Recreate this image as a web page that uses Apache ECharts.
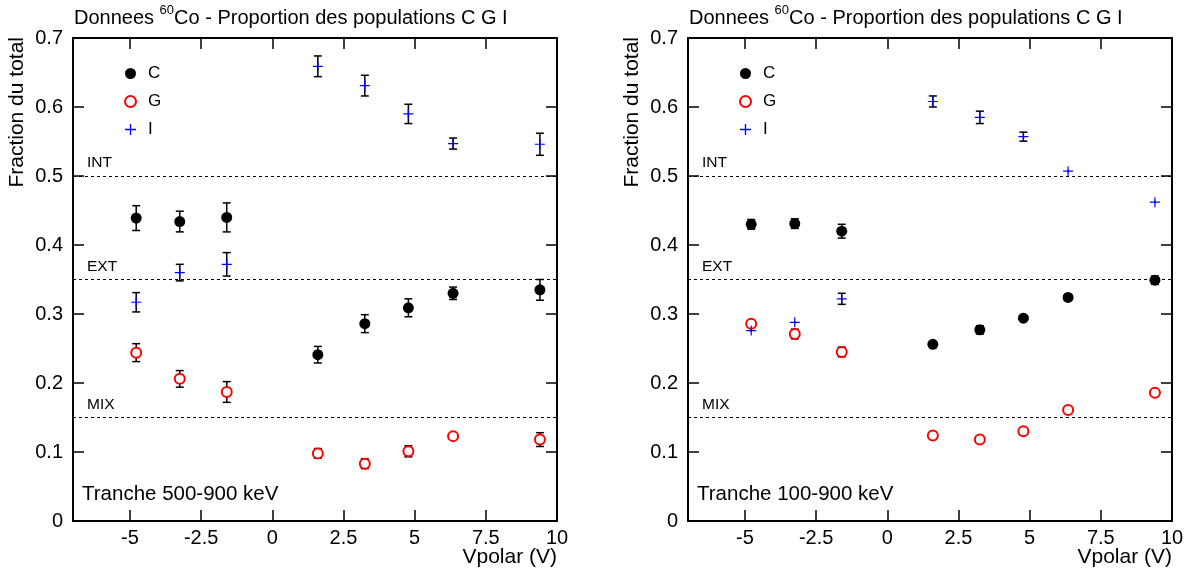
<!DOCTYPE html>
<html>
<head>
<meta charset="utf-8">
<script src="https://cdn.jsdelivr.net/npm/echarts@6/dist/echarts.min.js"></script>
<style>
html,body{margin:0;padding:0;background:#fff;}
#chart{width:1198px;height:577px;}
</style>
</head>
<body>
<div id="chart"></div>
<script>
// ---- data ----
const vpolar = [-4.78, -3.25, -1.6, 1.6, 3.25, 4.78, 6.35, 9.4];
const xTicks = [-5, -2.5, 0, 2.5, 5, 7.5, 10];
const refLevels = [0.5, 0.35, 0.15];
const refNames = ['INT', 'EXT', 'MIX'];
const populations = ['C', 'G', 'I'];

// Tranche 500-900 keV
const C500 = [0.439, 0.434, 0.440, 0.241, 0.286, 0.309, 0.330, 0.335];
const C500err = [0.018, 0.015, 0.021, 0.012, 0.013, 0.013, 0.009, 0.015];
const G500 = [0.244, 0.206, 0.187, 0.098, 0.083, 0.101, 0.123, 0.118];
const G500err = [0.013, 0.012, 0.015, 0.007, 0.007, 0.008, 0.004, 0.010];
const I500 = [0.317, 0.360, 0.372, 0.659, 0.631, 0.590, 0.547, 0.546];
const I500err = [0.014, 0.012, 0.017, 0.015, 0.015, 0.014, 0.008, 0.016];

// Tranche 100-900 keV
const C100 = [0.430, 0.431, 0.420, 0.256, 0.277, 0.294, 0.324, 0.349];
const C100err = [0.007, 0.007, 0.010, 0.003, 0.006, 0.003, 0.003, 0.006];
const G100 = [0.286, 0.271, 0.245, 0.124, 0.118, 0.130, 0.161, 0.186];
const G100err = [0.003, 0.007, 0.007, 0.003, 0.003, 0.003, 0.003, 0.003];
const I100 = [0.276, 0.288, 0.322, 0.608, 0.585, 0.557, 0.507, 0.462];
const I100err = [0.002, 0.002, 0.008, 0.008, 0.009, 0.0065, 0.002, 0.002];

const panelTitles = ['Tranche 500-900 keV', 'Tranche 100-900 keV'];

// ---- chart ----
const FONT = 'Liberation Sans, Arial, Helvetica, sans-serif';
const chart = echarts.init(document.getElementById('chart'), null, {renderer: 'canvas'});

const grids = [
  {left: 73, top: 38, width: 484, height: 483},
  {left: 688, top: 38, width: 484, height: 483}
];

const PLUS = 'path://M0,4.4L10,4.4L10,5.6L0,5.6Z M4.4,0L5.6,0L5.6,10L4.4,10Z';
const styles = {
  C: {symbol: 'circle', symbolSize: 11, itemStyle: {color: '#000', opacity: 1}, gap: 0},
  G: {symbol: 'emptyCircle', symbolSize: 10, itemStyle: {color: '#ff0000', borderColor: '#ff0000', borderWidth: 1.2, opacity: 1}, gap: 5},
  I: {symbol: PLUS, symbolSize: 10, itemStyle: {color: '#0000ff', opacity: 1}, gap: 0}
};

function fmtX(v) { return String(v); }
function fmtY(v) { return v === 0 ? '0' : v.toFixed(1); }

const xAxes = [], yAxes = [];
grids.forEach((g, gi) => {
  xAxes.push({
    gridIndex: gi, type: 'value', min: -7, max: 10, position: 'bottom',
    axisLine: {show: true, onZero: false, lineStyle: {color: '#000', width: 2}},
    axisTick: {show: true, inside: true, length: 11, lineStyle: {color: '#000', width: 1.5}, customValues: xTicks},
    axisLabel: {show: true, margin: 7, color: '#000', fontSize: 20, fontFamily: FONT, customValues: xTicks, formatter: fmtX},
    splitLine: {show: false}
  });
  xAxes.push({
    gridIndex: gi, type: 'value', min: -7, max: 10, position: 'top',
    axisLine: {show: true, onZero: false, lineStyle: {color: '#000', width: 2}},
    axisTick: {show: true, inside: true, length: 11, lineStyle: {color: '#000', width: 1.5}, customValues: xTicks},
    axisLabel: {show: false, customValues: xTicks},
    splitLine: {show: false}
  });
  yAxes.push({
    gridIndex: gi, type: 'value', min: 0, max: 0.7, interval: 0.1, position: 'left',
    axisLine: {show: true, onZero: false, lineStyle: {color: '#000', width: 2}},
    axisTick: {show: true, inside: true, length: 11, lineStyle: {color: '#000', width: 1.5}},
    axisLabel: {show: true, margin: 10, color: '#000', fontSize: 20, fontFamily: FONT, formatter: fmtY},
    splitLine: {show: false}
  });
  yAxes.push({
    gridIndex: gi, type: 'value', min: 0, max: 0.7, interval: 0.1, position: 'right',
    axisLine: {show: true, onZero: false, lineStyle: {color: '#000', width: 2}},
    axisTick: {show: true, inside: true, length: 11, lineStyle: {color: '#000', width: 1.5}},
    axisLabel: {show: false},
    splitLine: {show: false}
  });
});

function errRender(gap) {
  return function (params, api) {
    const x = api.value(0), y = api.value(1), e = api.value(2);
    const c = api.coord([x, y]);
    const t = api.coord([x, y + e]);
    const b = api.coord([x, y - e]);
    const ePx = c[1] - t[1];
    const children = [];
    const ls = {stroke: '#000', lineWidth: 1.5};
    if (ePx > gap) {
      children.push({type: 'line', shape: {x1: c[0], y1: t[1], x2: c[0], y2: c[1] - gap}, style: ls});
      children.push({type: 'line', shape: {x1: c[0], y1: c[1] + gap, x2: c[0], y2: b[1]}, style: ls});
    }
    if (ePx > 3) {
      children.push({type: 'line', shape: {x1: c[0] - 4, y1: t[1], x2: c[0] + 4, y2: t[1]}, style: ls});
      children.push({type: 'line', shape: {x1: c[0] - 4, y1: b[1], x2: c[0] + 4, y2: b[1]}, style: ls});
    }
    return {type: 'group', children: children};
  };
}

const panelData = [
  {C: [C500, C500err], G: [G500, G500err], I: [I500, I500err]},
  {C: [C100, C100err], G: [G100, G100err], I: [I100, I100err]}
];

const series = [];
panelData.forEach((pd, gi) => {
  // reference lines
  series.push({
    type: 'line', name: 'ref' + gi, xAxisIndex: gi * 2, yAxisIndex: gi * 2, data: [], silent: true,
    markLine: {
      silent: true, symbol: ['none', 'none'], animation: false,
      lineStyle: {color: '#000', type: [3, 3], width: 1},
      label: {show: true, position: 'insideStartTop', distance: [14, 5], color: '#000', fontSize: 15.5, fontFamily: FONT,
        formatter: p => p.name},
      data: refLevels.map((v, i) => ({name: refNames[i], yAxis: v}))
    }
  });
  populations.forEach(p => {
    const vals = pd[p][0], errs = pd[p][1];
    series.push({
      type: 'custom', name: p + '_err' + gi, xAxisIndex: gi * 2, yAxisIndex: gi * 2, z: 3, silent: true,
      renderItem: errRender(styles[p].gap),
      data: vpolar.map((x, i) => [x, vals[i], errs[i]])
    });
    series.push({
      type: 'scatter', name: p, xAxisIndex: gi * 2, yAxisIndex: gi * 2, z: 5,
      symbol: styles[p].symbol, symbolSize: styles[p].symbolSize, itemStyle: styles[p].itemStyle,
      data: vpolar.map((x, i) => [x, vals[i]])
    });
  });
});

const legends = grids.map(g => ({
  orient: 'vertical', left: g.left + 46, top: 60, itemWidth: 11, itemHeight: 11, itemGap: 11,
  selectedMode: false,
  textStyle: {fontSize: 17, fontFamily: FONT, color: '#000', padding: [0, 0, 0, 7]},
  data: populations
}));

const graphics = [];
grids.forEach((g, gi) => {
  graphics.push({type: 'text', x: g.left + 1, y: 16, style: {
    text: '{a|Donnees }{s|60}{a|Co - Proportion des populations C G I}',
    textVerticalAlign: 'middle', fill: '#000',
    rich: {a: {fontSize: 20, fontFamily: FONT, lineHeight: 24, verticalAlign: 'bottom'},
           s: {fontSize: 13, fontFamily: FONT, lineHeight: 24, verticalAlign: 'top', padding: [0, 0, 9, 0]}}
  }});
  graphics.push({type: 'text', x: g.left - 56, y: g.top - 1, rotation: Math.PI / 2, style: {
    text: 'Fraction du total', textAlign: 'right', textVerticalAlign: 'middle', fontSize: 21, fontFamily: FONT, fill: '#000'
  }});
  graphics.push({type: 'text', x: g.left + g.width, y: 557, style: {
    text: 'Vpolar (V)', textAlign: 'right', textVerticalAlign: 'middle', fontSize: 21, fontFamily: FONT, fill: '#000'
  }});
  graphics.push({type: 'text', x: g.left + 9, y: 494, style: {
    text: panelTitles[gi], textAlign: 'left', textVerticalAlign: 'middle', fontSize: 20.5, fontFamily: FONT, fill: '#000'
  }});
});

chart.setOption({
  animation: false,
  backgroundColor: '#fff',
  grid: grids,
  xAxis: xAxes,
  yAxis: yAxes,
  legend: legends,
  graphic: graphics,
  series: series
});
</script>
</body>
</html>
